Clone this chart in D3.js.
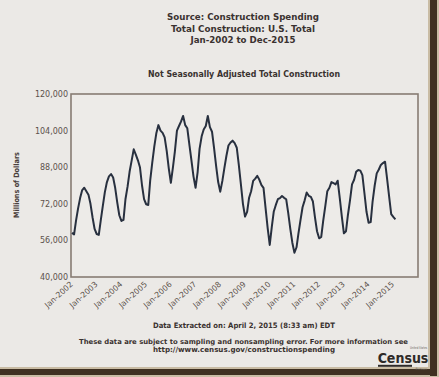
<!DOCTYPE html>
<html>
<head>
<meta charset="utf-8">
<script src="https://cdn.jsdelivr.net/npm/d3@7"></script>
<style>
html,body{margin:0;padding:0;background:#ebe9e6;}
svg{display:block;}
</style>
</head>
<body>
<svg id="chart" width="439" height="377"></svg>
<script>
// ---- data (millions of dollars, not seasonally adjusted, monthly) ----
const years = [2002,2003,2004,2005,2006,2007,2008,2009,2010,2011,2012,2013,2014,2015];
const nsa2002 = [59300,58600,64500,70000,74500,78000,79000,77500,76000,72000,66000,61000];
const nsa2003 = [58800,58400,64500,71000,77000,81500,84000,85000,83500,79000,72500,67000];
const nsa2004 = [64500,65000,74000,79500,86000,91000,95800,93500,91000,88000,80000,74000];
const nsa2005 = [71800,71500,82000,90000,97000,103000,106400,104000,103000,101000,95000,87500];
const nsa2006 = [81200,88000,94800,104000,106000,108000,110400,106400,105000,98000,91000,84000];
const nsa2007 = [79000,86000,96000,101500,104500,106000,110400,105500,103500,96500,88500,81500];
const nsa2008 = [77300,82000,87500,93000,97500,98800,99600,98500,96500,89000,80500,72000];
const nsa2009 = [66400,68500,74500,77500,82000,83000,84200,82500,80200,79000,70000,61500];
const nsa2010 = [54000,62000,68500,71500,74000,74500,75400,74600,74000,68000,61000,55000];
const nsa2011 = [50600,53000,59000,65000,70500,73500,76900,75500,75000,73000,66000,60000];
const nsa2012 = [56900,57500,64500,71000,77500,79000,81500,81000,80500,82100,74500,66500];
const nsa2013 = [59100,60000,67000,73500,80500,82500,86000,86800,86500,84500,76500,68500];
const nsa2014 = [63700,64000,73000,80000,85300,87000,89000,89800,90400,83000,75000,67500];
const nsa2015 = [66300,65200];
const yTicks = [40000,56000,72000,88000,104000,120000];
const xTickLabels = ["Jan-2002","Jan-2003","Jan-2004","Jan-2005","Jan-2006","Jan-2007","Jan-2008",
  "Jan-2009","Jan-2010","Jan-2011","Jan-2012","Jan-2013","Jan-2014","Jan-2015"];
const titleLines = ["Source: Construction Spending","Total Construction: U.S. Total","Jan-2002 to Dec-2015"];
const subTitle = "Not Seasonally Adjusted Total Construction";
const yLabel = "Millions of Dollars";
const footer1 = "Data Extracted on: April 2, 2015 (8:33 am) EDT";
const footer2 = ["These data are subject to sampling and nonsampling error. For more information see",
                 "http://www.census.gov/constructionspending"];

const values = [].concat(nsa2002,nsa2003,nsa2004,nsa2005,nsa2006,nsa2007,nsa2008,
  nsa2009,nsa2010,nsa2011,nsa2012,nsa2013,nsa2014,nsa2015);
const series = values.map((v,i)=>({date:new Date(2002, i, 1), v}));

const svg = d3.select("#chart");
const W = 439, H = 377;
const font = "'DejaVu Sans', Verdana, sans-serif";
const dark = "#3a3230";

function fit(sel, w){ sel.attr("textLength",w).attr("lengthAdjust","spacingAndGlyphs"); return sel; }

// outer frame (bottom/right shadow border of the screenshot)
svg.append("rect").attr("x",0).attr("y",0).attr("width",W).attr("height",H).attr("fill","#ebe9e6");
svg.append("rect").attr("x",428).attr("y",0).attr("width",11).attr("height",H).attr("fill","#c9bca4");
svg.append("rect").attr("x",0).attr("y",367).attr("width",W).attr("height",10).attr("fill","#c9bca4");
svg.append("rect").attr("x",430).attr("y",0).attr("width",7).attr("height",376).attr("fill","#3f3021");
svg.append("rect").attr("x",0).attr("y",369).attr("width",437).attr("height",6).attr("fill","#3f3021");
svg.append("rect").attr("x",0).attr("y",0).attr("width",428).attr("height",367).attr("fill","#ebe9e6");

// scales
const m = {left:71, right:418, top:94, bottom:277};
const x = d3.scaleTime().domain([new Date(2002,0,1), new Date(2016,0,1)]).range([m.left+1, m.right]);
const y = d3.scaleLinear().domain([40000,120000]).range([m.bottom, m.top]);

// plot background & frame
svg.append("rect").attr("x",m.left).attr("y",m.top).attr("width",m.right-m.left).attr("height",m.bottom-m.top)
  .attr("fill","#edebe8").attr("stroke","#877c73").attr("stroke-width",1.6);

// titles
const titleW = [152,144,105];
svg.append("g").selectAll("text").data(titleLines).join("text")
  .attr("x",243).attr("y",(d,i)=>20+i*11.7).attr("text-anchor","middle")
  .attr("font-family",font).attr("font-weight","bold").attr("font-size",9.3).attr("fill",dark)
  .attr("textLength",(d,i)=>titleW[i]).attr("lengthAdjust","spacingAndGlyphs")
  .text(d=>d);
fit(svg.append("text").attr("x",244).attr("y",76.5).attr("text-anchor","middle")
  .attr("font-family",font).attr("font-weight","bold").attr("font-size",8).attr("fill",dark).text(subTitle), 192);

// y axis
const yAxis = d3.axisLeft(y).tickValues(yTicks).tickFormat(d3.format(",")).tickSize(0).tickPadding(3);
const gy = svg.append("g").attr("transform",`translate(${m.left},0)`).call(yAxis);
gy.select(".domain").remove();
gy.selectAll("text").attr("font-family",font).attr("font-size",8).attr("fill","#5b514b");

fit(svg.append("text").attr("transform","translate(18.5,185) rotate(-90)").attr("text-anchor","middle")
  .attr("font-family",font).attr("font-weight","bold").attr("font-size",7.4).attr("fill","#4a403c").text(yLabel), 66);

// x axis
const xTicks = years.map(yr=>new Date(yr,0,1));
const xAxis = d3.axisBottom(x).tickValues(xTicks).tickFormat((d,i)=>xTickLabels[i]).tickSize(0).tickPadding(0);
const gx = svg.append("g").attr("transform",`translate(0,${m.bottom})`).call(xAxis);
gx.select(".domain").remove();
gx.selectAll("text")
  .attr("font-family",font).attr("font-size",7.8).attr("fill","#5b514b")
  .attr("text-anchor","end").attr("dy",0).attr("y",0)
  .attr("transform","translate(1,8) rotate(-42)");

// line
const line = d3.line().x(d=>x(d.date)).y(d=>y(d.v)).curve(d3.curveLinear);
svg.append("path").datum(series).attr("d",line).attr("fill","none")
  .attr("stroke","#28303f").attr("stroke-width",2).attr("stroke-linejoin","round");

// footer
fit(svg.append("text").attr("x",244).attr("y",328).attr("text-anchor","middle")
  .attr("font-family",font).attr("font-weight","bold").attr("font-size",7.4).attr("fill",dark).text(footer1), 182);
svg.append("text").attr("x",243.5).attr("y",343.5).attr("text-anchor","middle")
  .attr("font-family",font).attr("font-weight","bold").attr("font-size",6.85).attr("fill",dark)
  .text(footer2[0]);
fit(svg.append("text").attr("x",244).attr("y",352).attr("text-anchor","middle")
  .attr("font-family",font).attr("font-weight","bold").attr("font-size",7.2).attr("fill",dark)
  .text(footer2[1]), 182);

// Census logo
const logo = svg.append("g");
fit(logo.append("text").attr("x",427).attr("y",348.5).attr("text-anchor","end")
  .attr("font-family",font).attr("font-size",3.8).attr("fill","#6a625c").text("United States"), 17);
logo.append("text").attr("x",403).attr("y",362.8).attr("text-anchor","middle")
  .attr("font-family","'DejaVu Sans Condensed','DejaVu Sans',sans-serif").attr("font-weight","bold")
  .attr("font-size",14).attr("fill","#2e2a28").text("Census");
logo.append("rect").attr("x",378).attr("y",364.8).attr("width",34).attr("height",2).attr("fill","#2e2a28");
logo.append("text").attr("x",427).attr("y",369.6).attr("text-anchor","end")
  .attr("font-family",font).attr("font-size",3.2).attr("fill","#6a625c").text("Bureau");
</script>
</body>
</html>
